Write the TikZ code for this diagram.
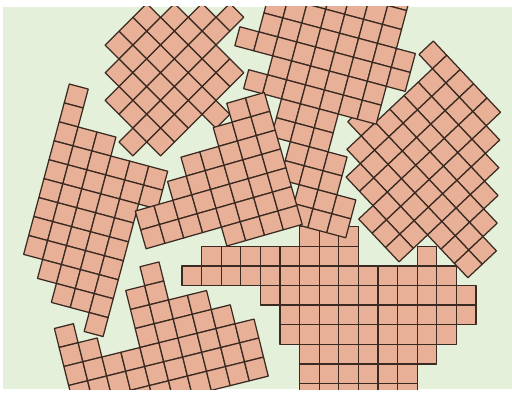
\documentclass[tikz,border=0pt]{standalone}
\definecolor{bg}{HTML}{E4F0DA}
\definecolor{tile}{HTML}{E8B197}
\definecolor{edge}{HTML}{3A2A22}
\tikzset{cellst/.style={fill=tile,draw=edge,line width=1.25pt,line join=round}}
\newcommand{\cs}{19.6}
\newcommand{\crow}[3]{\foreach \ii in {#2,...,#3}{\draw[cellst] ({\ii*\cs},{#1*\cs}) rectangle ++(\cs,\cs);}}
\begin{document}
\begin{tikzpicture}[x=1pt,y=-1pt]
\useasboundingbox (0,0) rectangle (512,392);
\fill[white] (0,0) rectangle (512,392);
\fill[bg] (3.3,6.5) rectangle (512,389);
\begin{scope}
\clip (3.3,6.5) rectangle (512,389);
% axis-aligned piece
\begin{scope}[shift={(182,226.7)}]
\crow{0}{6}{8}
\crow{1}{1}{8}\crow{1}{12}{12}
\crow{2}{0}{13}
\crow{3}{4}{14}
\crow{4}{5}{14}
\crow{5}{5}{13}
\crow{6}{6}{12}
\crow{7}{6}{11}
\crow{8}{6}{11}
\end{scope}
% piece A (top left diamond)
\begin{scope}[shift={(119,31.17)},rotate=-45]
\crow{-5}{3}{3}
\crow{-4}{2}{3}
\crow{-3}{1}{5}
\crow{-2}{0}{5}
\crow{-1}{0}{6}
\crow{0}{0}{5}
\crow{1}{1}{5}
\crow{2}{2}{5}
\crow{3}{4}{4}
\end{scope}
% piece C (right diamond)
\begin{scope}[shift={(433.3,41)},rotate=-46.7]
\crow{0}{0}{4}
\crow{1}{1}{5}
\crow{2}{1}{6}
\crow{3}{1}{7}
\crow{4}{1}{8}
\crow{5}{0}{9}
\crow{6}{1}{9}
\crow{7}{2}{6}
\crow{8}{4}{6}
\end{scope}
% piece B (top centre)
\begin{scope}[shift={(269,-6)},rotate=-15]
\crow{-2}{0}{6}
\crow{-1}{0}{6}
\crow{0}{0}{6}
\crow{1}{0}{7}
\crow{2}{-1}{7}
\crow{3}{1}{6}
\crow{4}{0}{6}
\crow{5}{2}{4}
\crow{6}{2}{4}
\crow{7}{3}{5}
\crow{8}{3}{5}
\crow{9}{4}{6}
\crow{10}{4}{6}
\end{scope}
% piece D (left)
\begin{scope}[shift={(69.3,84)},rotate=-15]
\crow{0}{0}{0}
\crow{1}{0}{0}
\crow{2}{0}{2}
\crow{3}{0}{5}
\crow{4}{0}{5}
\crow{5}{0}{4}
\crow{6}{0}{4}
\crow{7}{0}{4}
\crow{8}{0}{4}
\crow{9}{1}{4}
\crow{10}{2}{4}
\crow{11}{4}{4}
\end{scope}
% piece E (centre)
\begin{scope}[shift={(226.7,103.3)},rotate=16]
\crow{0}{0}{1}
\crow{1}{-1}{1}
\crow{2}{-3}{1}
\crow{3}{-4}{1}
\crow{4}{-6}{1}
\crow{5}{-6}{1}
\crow{6}{-2}{1}
\end{scope}
% piece F (bottom left)
\begin{scope}[shift={(140,266.7)},rotate=14]
\crow{0}{0}{0}
\crow{1}{-1}{0}
\crow{2}{-5}{-5}\crow{2}{-1}{2}
\crow{3}{-5}{-4}\crow{3}{-1}{3}
\crow{4}{-5}{4}
\crow{5}{-5}{4}
\crow{6}{-5}{4}
\end{scope}
\end{scope}
\end{tikzpicture}
\end{document}
